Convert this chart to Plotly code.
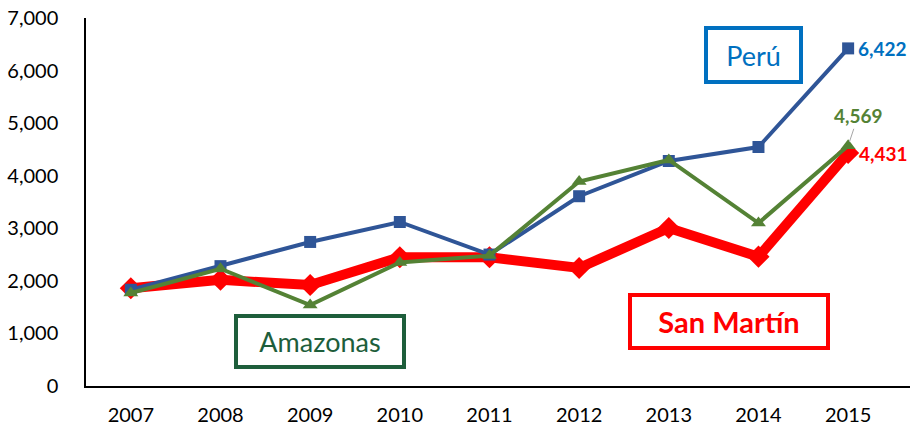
import plotly.graph_objects as go

years = ["2007", "2008", "2009", "2010", "2011", "2012", "2013", "2014", "2015"]
peru = [1830, 2280, 2740, 3120, 2500, 3610, 4280, 4546, 6422]
amazonas = [1770, 2230, 1540, 2350, 2480, 3890, 4300, 3100, 4569]
san_martin = [1860, 2020, 1920, 2450, 2450, 2245, 3005, 2460, 4431]
y_ticks = [0, 1000, 2000, 3000, 4000, 5000, 6000, 7000]

FONT = "Lato"
BLUE = "#2F5597"
GREEN = "#548235"
RED = "#FF0000"

fig = go.Figure()
fig.add_trace(go.Scatter(x=years, y=san_martin, mode="lines+markers", name="San Martín",
                         line=dict(color=RED, width=10),
                         marker=dict(symbol="diamond", size=17, color=RED)))
fig.add_trace(go.Scatter(x=years, y=peru, mode="lines+markers", name="Perú",
                         line=dict(color=BLUE, width=4),
                         marker=dict(symbol="square", size=12, color=BLUE)))
fig.add_trace(go.Scatter(x=years, y=amazonas, mode="lines+markers", name="Amazonas",
                         line=dict(color=GREEN, width=4),
                         marker=dict(symbol="triangle-up", size=13, color=GREEN)))

last = len(years) - 1
ann = []
# data labels for last point
ann.append(dict(x=last, y=peru[-1], xref="x", yref="y", text=f"<b>{peru[-1]:,}</b>",
                showarrow=False, xanchor="left", xshift=8, font=dict(family=FONT, size=19, color="#0070C0")))
ann.append(dict(x=last, y=san_martin[-1], xref="x", yref="y", text=f"<b>{san_martin[-1]:,}</b>",
                showarrow=False, xanchor="left", xshift=9, font=dict(family=FONT, size=19, color=RED)))
ann.append(dict(x=last, y=amazonas[-1], xref="x", yref="y", text=f"<b>{amazonas[-1]:,}</b>",
                showarrow=True, arrowhead=0, arrowwidth=1, arrowcolor="#A6A6A6",
                ax=10, ay=-30, standoff=4,
                font=dict(family=FONT, size=19, color=GREEN)))
# series name boxes
ann.append(dict(x=0.81, y=0.899, xref="paper", yref="paper", text="Perú", showarrow=False,
                xanchor="center", yanchor="middle",
                width=89, height=48, bordercolor="#0070C0", borderwidth=4, bgcolor="white",
                font=dict(family=FONT, size=27, color="#0070C0")))
ann.append(dict(x=0.284, y=0.121, xref="paper", yref="paper", text="Amazonas", showarrow=False,
                xanchor="center", yanchor="middle",
                width=162, height=45, bordercolor="#1E5E3B", borderwidth=4, bgcolor="white",
                font=dict(family=FONT, size=27, color="#1E5E3B")))
ann.append(dict(x=0.780, y=0.175, xref="paper", yref="paper", text="<b>San Martín</b>", showarrow=False,
                xanchor="center", yanchor="middle",
                width=192, height=47, bordercolor=RED, borderwidth=4, bgcolor="white",
                font=dict(family=FONT, size=29, color=RED)))

fig.update_layout(
    width=914, height=428,
    margin=dict(l=86, r=4, t=18, b=42),
    plot_bgcolor="white", paper_bgcolor="white",
    showlegend=False,
    annotations=ann,
    font=dict(family=FONT, size=20, color="black"),
)
fig.update_xaxes(type="category", range=[-0.5, last + 0.69], showline=True, linecolor="black", linewidth=1.5,
                 showgrid=False, ticks="", tickfont=dict(family=FONT, size=20), ticklabelstandoff=10,
                 automargin=False)
fig.update_yaxes(range=[0, 7000], tickvals=y_ticks, tickformat=",", showline=True, linecolor="black",
                 linewidth=1.5, showgrid=False, zeroline=False, ticks="", ticklabelstandoff=22,
                 tickfont=dict(family=FONT, size=20), automargin=False)

fig.write_html("out.html", config={"displayModeBar": False},
               post_script="document.body.style.margin='0';document.body.style.overflow='hidden';")
